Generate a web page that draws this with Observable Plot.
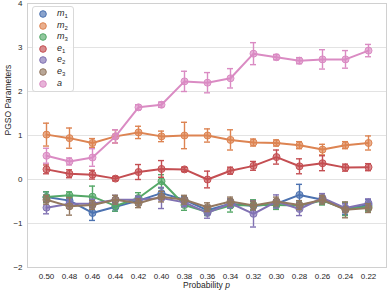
<!DOCTYPE html>
<html><head><meta charset="utf-8">
<script src="https://cdn.jsdelivr.net/npm/d3@7"></script>
<script src="https://cdn.jsdelivr.net/npm/@observablehq/plot@0.6"></script>
<style>
body{margin:0;background:#fff;}
#wrap{position:relative;width:388px;height:292px;font-family:"Liberation Sans",Arial,sans-serif;color:#262626;}
#legend{position:absolute;left:32px;top:6px;width:42px;height:86px;border:1px solid #d9d9d9;border-radius:3px;background:rgba(255,255,255,0.85);box-sizing:border-box;}
.row{position:absolute;left:0;height:10px;width:40px;}
.row svg{position:absolute;left:5px;top:0;}
.row span{position:absolute;left:24px;top:-1px;font-size:9px;font-style:italic;line-height:10px;white-space:nowrap;}
.row sub{font-style:normal;font-size:6px;vertical-align:-2px;line-height:0;}
.xlabel{position:absolute;top:280px;left:27px;width:359px;text-align:center;font-size:8.5px;}
</style></head>
<body><div id="wrap"></div>
<script>
const pLabels = ["0.50","0.48","0.46","0.44","0.42","0.40","0.38","0.36","0.34","0.32","0.30","0.28","0.26","0.24","0.22"];
const yTicks = [-2,-1,0,1,2,3,4];
const seriesNames = ["m1","m2","m3","e1","e2","e3","a"];
const seriesColors = ["#4c72b0","#dd8452","#55a868","#c44e52","#8172b3","#937860","#da8bc3"];

const m1 = [-0.40,-0.48,-0.76,-0.62,-0.48,-0.31,-0.46,-0.70,-0.55,-0.60,-0.55,-0.35,-0.46,-0.67,-0.58];
const m1Err = [0.12,0.10,0.17,0.10,0.10,0.12,0.08,0.10,0.10,0.10,0.08,0.24,0.10,0.12,0.12];
const m2 = [1.02,0.94,0.83,0.98,1.07,0.98,1.00,1.00,0.90,0.84,0.83,0.78,0.68,0.78,0.83];
const m2Err = [0.26,0.23,0.10,0.15,0.14,0.12,0.30,0.15,0.23,0.08,0.07,0.08,0.12,0.08,0.16];
const m3 = [-0.40,-0.36,-0.39,-0.60,-0.42,-0.04,-0.58,-0.74,-0.59,-0.58,-0.58,-0.59,-0.48,-0.67,-0.62];
const m3Err = [0.12,0.08,0.24,0.12,0.12,0.15,0.12,0.08,0.15,0.12,0.10,0.10,0.10,0.15,0.10];
const e1 = [0.23,0.13,0.11,0.02,0.17,0.24,0.23,0.00,0.20,0.31,0.51,0.30,0.37,0.27,0.28];
const e1Err = [0.10,0.09,0.10,0.05,0.17,0.19,0.05,0.19,0.08,0.10,0.16,0.17,0.17,0.08,0.08];
const e2 = [-0.64,-0.55,-0.55,-0.46,-0.46,-0.42,-0.52,-0.76,-0.54,-0.78,-0.50,-0.67,-0.42,-0.65,-0.54];
const e2Err = [0.14,0.10,0.10,0.10,0.08,0.24,0.10,0.12,0.10,0.30,0.15,0.15,0.10,0.10,0.10];
const e3 = [-0.46,-0.61,-0.58,-0.46,-0.54,-0.39,-0.46,-0.63,-0.50,-0.59,-0.50,-0.58,-0.46,-0.69,-0.65];
const e3Err = [0.10,0.20,0.10,0.10,0.10,0.12,0.10,0.10,0.10,0.10,0.10,0.10,0.10,0.18,0.10];
const a = [0.54,0.41,0.50,0.98,1.64,1.70,2.23,2.20,2.30,2.86,2.78,2.70,2.73,2.73,2.93];
const aErr = [0.17,0.08,0.20,0.15,0.06,0.06,0.23,0.23,0.22,0.25,0.06,0.07,0.22,0.20,0.14];

const values = [m1,m2,m3,e1,e2,e3,a];
const errs = [m1Err,m2Err,m3Err,e1Err,e2Err,e3Err,aErr];

const seriesMarks = [];
seriesNames.forEach((name, si) => {
  const rows = pLabels.map((p, i) => ({p, v: values[si][i], lo: values[si][i] - errs[si][i], hi: values[si][i] + errs[si][i]}));
  const c = seriesColors[si];
  seriesMarks.push(
    Plot.ruleX(rows, {x: "p", y1: "lo", y2: "hi", stroke: c, strokeWidth: 1.4}),
    Plot.tickY(rows, {x: "p", y: "lo", stroke: c, strokeWidth: 1.4}),
    Plot.tickY(rows, {x: "p", y: "hi", stroke: c, strokeWidth: 1.4}),
    Plot.line(rows, {x: "p", y: "v", stroke: c, strokeWidth: 2}),
    Plot.dot(rows, {x: "p", y: "v", r: 3.5, fill: c, fillOpacity: 0.65, stroke: c, strokeWidth: 1})
  );
});

const chart = Plot.plot({
  width: 388, height: 292,
  marginLeft: 27, marginRight: 2, marginTop: 3, marginBottom: 25,
  style: {fontFamily: "Liberation Sans, Arial, sans-serif", fontSize: "8px", color: "#262626", background: "white"},
  x: {type: "band", domain: pLabels, paddingInner: 0.75, paddingOuter: 0.375, tickSize: 0, tickPadding: 6, label: null},
  y: {domain: [-2, 4], ticks: yTicks, tickSize: 0, tickPadding: 5, label: null, tickFormat: d => d < 0 ? "\u2212" + Math.abs(d) : String(d)},
  marks: [
    Plot.ruleY(yTicks, {stroke: "#e3e3e3", strokeWidth: 1}),
    Plot.frame({stroke: "#d0d0d0"}),
    ...seriesMarks,
    Plot.text(["PGSO Parameters"], {frameAnchor: "left", dx: -19, rotate: -90, fontSize: 8.5, fill: "#262626"})
  ]
});

const wrap = document.getElementById("wrap");
wrap.appendChild(chart);

const xl = document.createElement("div");
xl.className = "xlabel";
xl.innerHTML = "Probability <i>p</i>";
wrap.appendChild(xl);

const legendLabels = ["<i>m</i><sub>1</sub>","<i>m</i><sub>2</sub>","<i>m</i><sub>3</sub>","<i>e</i><sub>1</sub>","<i>e</i><sub>2</sub>","<i>e</i><sub>3</sub>","<i>a</i>"];
const lg = document.createElement("div");
lg.id = "legend";
seriesNames.forEach((n, i) => {
  const row = document.createElement("div");
  row.className = "row";
  row.style.top = (2 + i * 11.6) + "px";
  const c = seriesColors[i];
  row.innerHTML = `<svg width="10" height="10"><circle cx="5" cy="5" r="3.3" fill="${c}" fill-opacity="0.65" stroke="${c}" stroke-width="1"/></svg><span>${legendLabels[i]}</span>`;
  lg.appendChild(row);
});
wrap.appendChild(lg);
</script>
</body></html>
